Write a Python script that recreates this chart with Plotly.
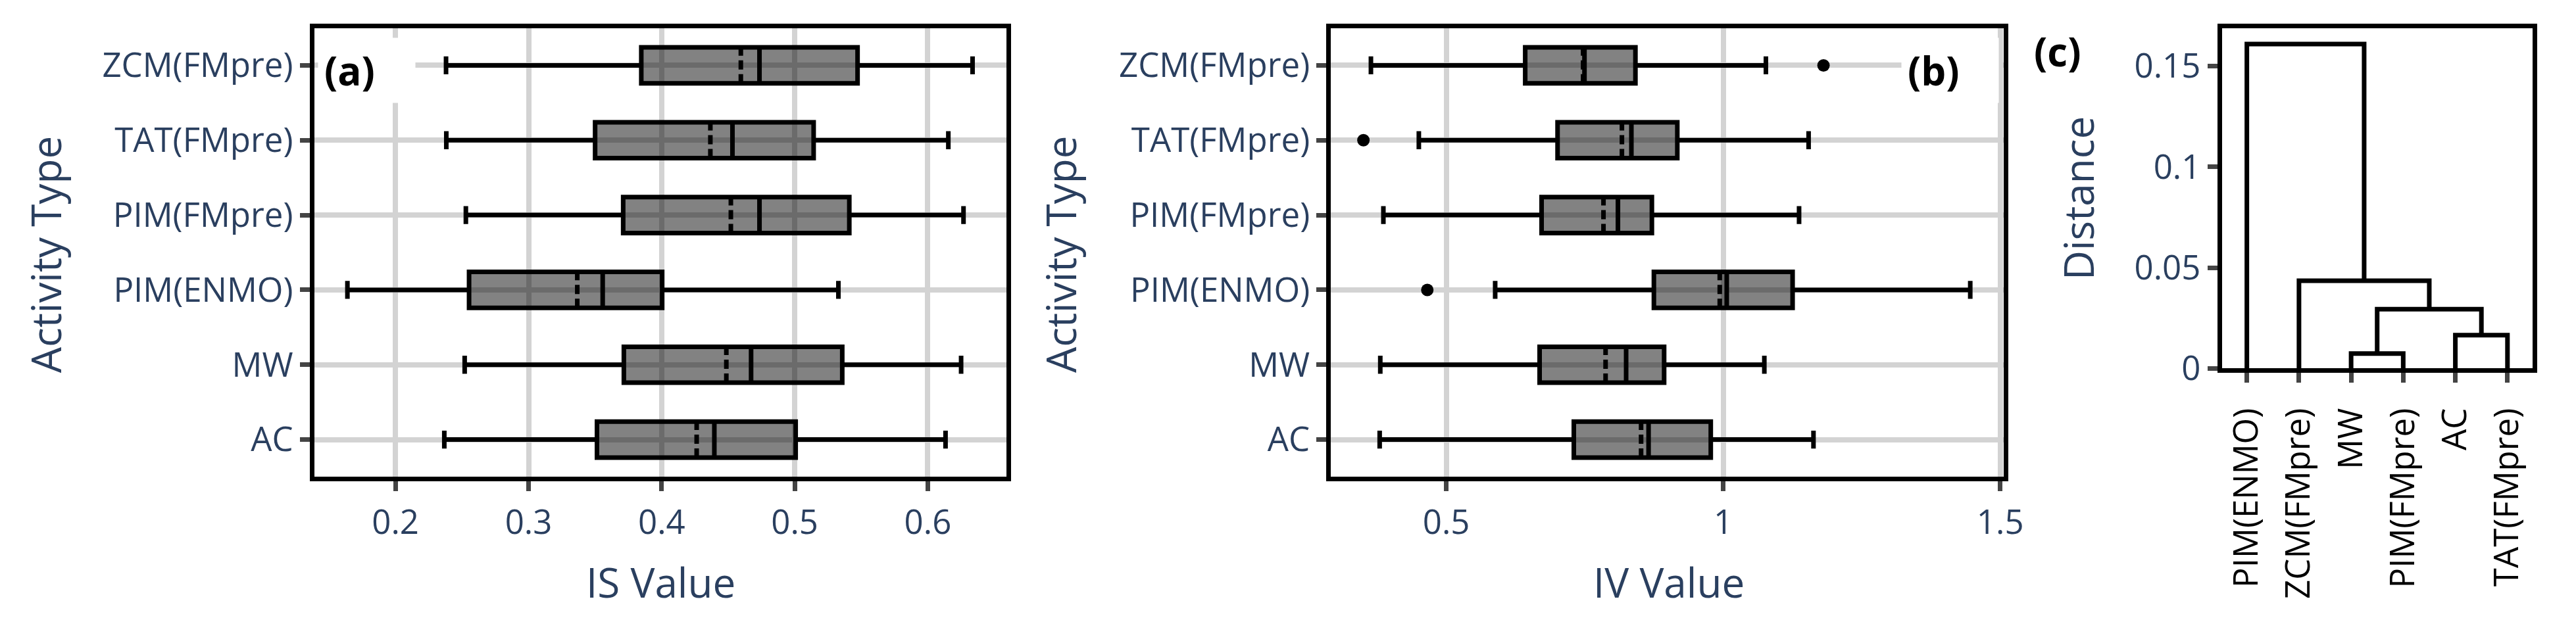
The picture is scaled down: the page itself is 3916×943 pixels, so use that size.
import plotly.graph_objects as go

W, H = 3916, 943

# ---------------- data ----------------
categories = ['AC', 'MW', 'PIM(ENMO)', 'PIM(FMpre)', 'TAT(FMpre)', 'ZCM(FMpre)']

# Panel (a) IS value box statistics (same order as categories)
is_low = [0.2367, 0.2520, 0.1639, 0.2529, 0.2382, 0.2380]
is_q1 = [0.3514, 0.3716, 0.2553, 0.3711, 0.3500, 0.3847]
is_median = [0.4396, 0.4672, 0.3557, 0.4735, 0.4532, 0.4735]
is_mean = [0.4263, 0.4486, 0.3366, 0.4520, 0.4366, 0.4595]
is_q3 = [0.5007, 0.5357, 0.4004, 0.5410, 0.5142, 0.5472]
is_high = [0.6133, 0.6250, 0.5328, 0.6268, 0.6154, 0.6336]

# Panel (b) IV value box statistics
iv_low = [0.3798, 0.3809, 0.5883, 0.3865, 0.4505, 0.3640]
iv_q1 = [0.7303, 0.6685, 0.8748, 0.6721, 0.7009, 0.6425]
iv_median = [0.8652, 0.8247, 1.0063, 0.8099, 0.8342, 0.7495]
iv_mean = [0.8517, 0.7876, 0.9937, 0.7838, 0.8171, 0.7470]
iv_q3 = [0.9775, 0.8933, 1.1252, 0.8712, 0.9171, 0.8415]
iv_high = [1.1629, 1.0742, 1.4459, 1.1369, 1.1541, 1.0770]
iv_outlier_cat = ['ZCM(FMpre)', 'TAT(FMpre)', 'PIM(ENMO)']
iv_outlier_val = [1.181, 0.3505, 0.4658]

# Panel (c) dendrogram (leaf order, merges as in a linkage table)
leaf_labels = ['PIM(ENMO)', 'ZCM(FMpre)', 'MW', 'PIM(FMpre)', 'AC', 'TAT(FMpre)']
merge_left = [2, 4, 6, 1, 0]
merge_right = [3, 5, 7, 8, 9]
merge_height = [0.0074, 0.0165, 0.0294, 0.0435, 0.1609]

is_ticks = [0.2, 0.3, 0.4, 0.5, 0.6]
iv_ticks = [0.5, 1.0, 1.5]
iv_ticktext = ['0.5', '1', '1.5']
dist_ticks = [0, 0.05, 0.1, 0.15]
dist_ticktext = ['0', '0.05', '0.1', '0.15']

# ---------------- style ----------------
NAVY = '#2a3f5f'
GRID = '#d3d3d3'
TICKC = '#444444'
FONT = 'Open Sans'
FILL = 'rgba(0,0,0,0.49)'
LW = 7
TICK_SIZE = 51
TITLE_SIZE = 62

# vertical correction between layout pixels and photographed pixels
VS, VB = 0.97, 7.3


def px_x(p):
    return p / W


def py(p):
    # p: wanted photographed pixel row -> paper fraction
    return 1 - ((p - VB) / VS) / H


fig = go.Figure()

box_common = dict(orientation='h', boxmean=True, width=0.48, whiskerwidth=0.5,
                  fillcolor=FILL, line=dict(color='black', width=LW),
                  showlegend=False, hoverinfo='skip')

fig.add_trace(go.Box(y=categories, q1=is_q1, median=is_median, q3=is_q3,
                     lowerfence=is_low, upperfence=is_high, mean=is_mean,
                     xaxis='x', yaxis='y', **box_common))

fig.add_trace(go.Box(y=categories, q1=iv_q1, median=iv_median, q3=iv_q3,
                     lowerfence=iv_low, upperfence=iv_high, mean=iv_mean,
                     xaxis='x2', yaxis='y2', **box_common))

fig.add_trace(go.Scatter(x=iv_outlier_val, y=iv_outlier_cat, mode='markers',
                         marker=dict(color='black', size=19),
                         xaxis='x2', yaxis='y2', showlegend=False))

# dendrogram links computed from the merge table
n = len(leaf_labels)
node_x = {i: float(i) for i in range(n)}
node_h = {i: 0.0 for i in range(n)}
dx, dy = [], []
for k, (a, b, h) in enumerate(zip(merge_left, merge_right, merge_height)):
    dx += [node_x[a], node_x[a], node_x[b], node_x[b], None]
    dy += [node_h[a], h, h, node_h[b], None]
    node_x[n + k] = (node_x[a] + node_x[b]) / 2
    node_h[n + k] = h

fig.add_trace(go.Scatter(x=dx, y=dy, mode='lines',
                         line=dict(color='black', width=LW),
                         xaxis='x3', yaxis='y3', showlegend=False,
                         hoverinfo='skip'))

axis_common = dict(showline=True, linecolor='black', linewidth=LW, mirror=True,
                   ticks='outside', ticklen=15, tickwidth=7, tickcolor=TICKC,
                   tickfont=dict(family=FONT, size=TICK_SIZE, color=NAVY),
                   zeroline=False)

cat_axis = dict(type='category', categoryorder='array', categoryarray=categories,
                range=[-0.5, 5.5], showgrid=True, gridcolor=GRID, gridwidth=8,
                **axis_common)

box_dom_y = [py(728.5), py(42)]

fig.update_layout(
    width=W, height=H, autosize=False,
    margin=dict(l=0, r=0, t=0, b=0),
    paper_bgcolor='white', plot_bgcolor='white',
    font=dict(family=FONT, color=NAVY),
    showlegend=False,
    xaxis=dict(domain=[px_x(473.5), px_x(1534)], range=[0.139, 0.659],
               tickvals=is_ticks, ticktext=[str(t) for t in is_ticks],
               showgrid=True, gridcolor=GRID, gridwidth=8, anchor='y',
               ticklabelstandoff=3, **axis_common),
    yaxis=dict(domain=box_dom_y, anchor='x', **cat_axis),
    xaxis2=dict(domain=[px_x(2031.5), px_x(3062)], range=[0.292, 1.506],
                tickvals=iv_ticks, ticktext=iv_ticktext,
                showgrid=True, gridcolor=GRID, gridwidth=8, anchor='y2',
                ticklabelstandoff=3, **axis_common),
    yaxis2=dict(domain=box_dom_y, anchor='x2', **cat_axis),
    xaxis3=dict(domain=[px_x(3396.5), px_x(3872.5)], range=[-0.48, 5.48],
                tickvals=list(range(n)), ticktext=leaf_labels, tickangle=-90,
                showgrid=False, anchor='y3', ticklabelstandoff=18,
                **{**axis_common,
                   'tickfont': dict(family=FONT, size=TICK_SIZE, color='black')}),
    yaxis3=dict(domain=[py(562.5), py(42.5)], range=[0, 0.1687],
                tickvals=dist_ticks, ticktext=dist_ticktext,
                showgrid=False, anchor='x3', **axis_common),
)

title_font = dict(family=FONT, size=TITLE_SIZE, color=NAVY)
label_font = dict(family=FONT, size=60, color='black')
annotations = [
    dict(text='Activity Type', x=px_x(61), y=py(388), textangle=-90),
    dict(text='Activity Type', x=px_x(1617), y=py(388), textangle=-90),
    dict(text='IS Value', x=px_x(1004), y=py(889)),
    dict(text='IV Value', x=px_x(2549), y=py(889)),
    dict(text='Distance', x=px_x(3176), y=py(302), textangle=-90),
]
for a in annotations:
    fig.add_annotation(xref='paper', yref='paper', showarrow=False,
                       xanchor='center', yanchor='middle', font=title_font, **a)

for txt, x0 in [('(a)', 479), ('(b)', 2905)]:
    fig.add_annotation(xref='paper', yref='paper', showarrow=False,
                       text='<b>' + txt + '</b>', x=px_x(x0), y=py(57),
                       xanchor='left', yanchor='top', align='left',
                       width=129, height=80, borderpad=9, bgcolor='white',
                       font=label_font)

fig.add_annotation(xref='paper', yref='paper', showarrow=False,
                   text='<b>(c)</b>', x=px_x(3145), y=py(78),
                   xanchor='center', yanchor='middle', font=label_font)

fig.write_html('out.html')
